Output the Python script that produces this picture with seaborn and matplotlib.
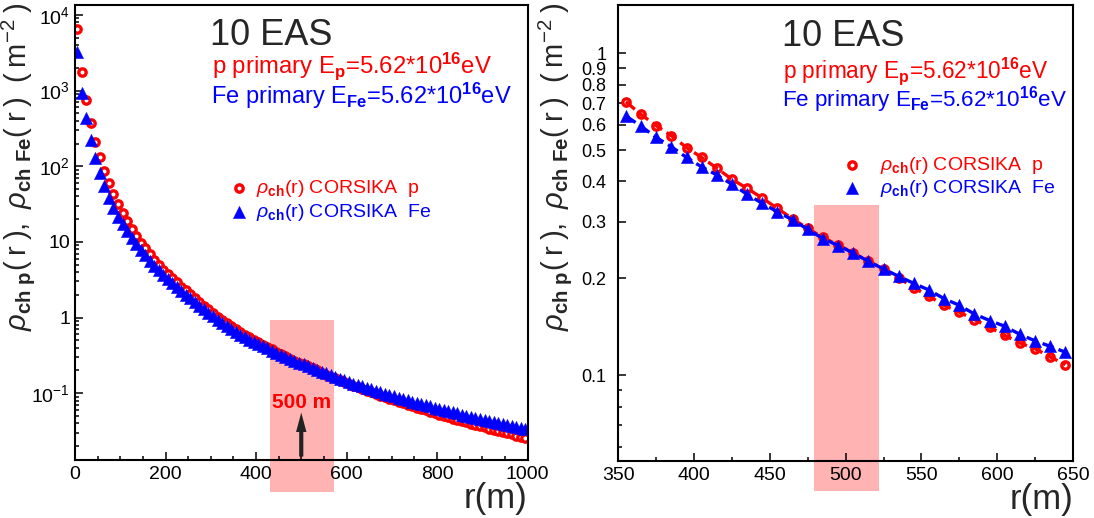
import numpy as np
import pandas as pd
import matplotlib
matplotlib.use("Agg")
import matplotlib.pyplot as plt
import seaborn as sns
from matplotlib.ticker import FixedLocator, MultipleLocator, LogLocator, NullFormatter

# ---------------- data ----------------
r_m = np.arange(5, 1000, 10)  # core distance grid (m)

rho_p = [6460, 1780, 759, 372, 211, 132, 86.7, 60.3, 42.9, 32.0,
         24.0, 18.9, 14.7, 11.9, 9.77, 8.22, 6.92, 5.82, 4.99, 4.29,
         3.74, 3.31, 2.93, 2.57, 2.28, 2.02, 1.79, 1.60, 1.43, 1.28,
         1.15, 1.03, 0.931, 0.843, 0.771, 0.707, 0.646, 0.596, 0.555, 0.510,
         0.475, 0.440, 0.406, 0.381, 0.355, 0.330, 0.306, 0.286, 0.268, 0.254,
         0.240, 0.226, 0.214, 0.201, 0.187, 0.176, 0.165, 0.157, 0.149, 0.141,
         0.133, 0.126, 0.121, 0.114, 0.108, 0.1030, 0.0979, 0.0933, 0.0889, 0.0847,
         0.0809, 0.0773, 0.0738, 0.0705, 0.0675, 0.0646, 0.0618, 0.0592, 0.0568, 0.0545,
         0.0522, 0.0501, 0.0481, 0.0462, 0.0445, 0.0428, 0.0411, 0.0395, 0.0381, 0.0367,
         0.0354, 0.0341, 0.0329, 0.0317, 0.0306, 0.0296, 0.0286, 0.0276, 0.0267, 0.0258]

rho_fe = [3270, 923, 432, 221, 128, 82.2, 54.7, 38.3, 28.3, 21.6,
          17.1, 13.8, 11.35, 9.42, 7.87, 6.64, 5.65, 4.85, 4.20, 3.66,
          3.22, 2.85, 2.54, 2.25, 2.01, 1.79, 1.60, 1.43, 1.29, 1.16,
          1.04, 0.942, 0.853, 0.773, 0.702, 0.639, 0.594, 0.548, 0.513, 0.475,
          0.444, 0.419, 0.392, 0.365, 0.342, 0.322, 0.304, 0.284, 0.266, 0.253,
          0.240, 0.226, 0.214, 0.203, 0.193, 0.184, 0.173, 0.165, 0.155, 0.148,
          0.142, 0.134, 0.128, 0.123, 0.118, 0.1125, 0.1076, 0.1030, 0.0989, 0.0948,
          0.0910, 0.0873, 0.0839, 0.0807, 0.0776, 0.0746, 0.0719, 0.0693, 0.0668, 0.0644,
          0.0621, 0.0600, 0.0579, 0.0560, 0.0541, 0.0522, 0.0506, 0.0490, 0.0474, 0.0459,
          0.0445, 0.0431, 0.0418, 0.0406, 0.0394, 0.0382, 0.0371, 0.0360, 0.0349, 0.0339]

label_p = r'$\rho_{\mathbf{ch}}$(r) CORSIKA  p'
label_fe = r'$\rho_{\mathbf{ch}}$(r) CORSIKA  Fe'
title_txt = '10 EAS'
p_txt = r'p primary E$_{\mathbf{p}}$=5.62*10$^{\mathbf{16}}$eV'
fe_txt = r'Fe primary E$_{\mathbf{Fe}}$=5.62*10$^{\mathbf{16}}$eV'
T = '\u2009'
ylabel_txt = (r'$\rho_{\mathbf{ch\ p}}$' + f'({T}r{T}),{T} ' + r'$\rho_{\mathbf{ch\ Fe}}$'
              + f'({T}r{T}) {T}({T}m' + r'$^{-2}$' + f'{T})')
xlabel_txt = 'r(m)'

left_yticks = [0.1, 1, 10, 100, 1000, 10000]
left_ytick_labels = [r'$10^{-1}$', '1', '10', r'$10^{2}$', r'$10^{3}$', r'$10^{4}$']
right_yticks = [0.1, 0.2, 0.3, 0.4, 0.5, 0.6, 0.7, 0.8, 0.9, 1.0]
right_ytick_labels = ['0.1', '0.2', '0.3', '0.4', '0.5', '0.6', '0.7', '0.8', '0.9', '1']
right_yminor = [0.06, 0.07, 0.08, 0.09]

df = pd.DataFrame({'r': r_m, 'p': rho_p, 'fe': rho_fe})
df_right = df[(df.r > 350) & (df.r < 650)]

# ---------------- style ----------------
sns.set_theme(style='ticks')
plt.rcParams['font.family'] = ['Liberation Sans', 'DejaVu Sans']
plt.rcParams.update({
    'mathtext.fontset': 'custom',
    'mathtext.rm': 'Liberation Sans',
    'mathtext.it': 'Liberation Sans:italic',
    'mathtext.bf': 'Liberation Sans:bold',
    'axes.linewidth': 1.5,
    'axes.edgecolor': 'black',
    'xtick.color': 'black', 'ytick.color': 'black',
})

RED = '#ff0000'
BLUE = '#0000ff'
PINK = '#ffb3b3'

fig = plt.figure(figsize=(10.94, 5.18), dpi=100)
axL = fig.add_axes([0.06856, 0.11197, 0.41362, 0.87838])
axR = fig.add_axes([0.56517, 0.11004, 0.41563, 0.88031])

circ_kw = dict(marker='o', s=28, facecolor='white', edgecolor=RED, linewidth=2.4)
tri_kw = dict(marker='^', s=78, facecolor=BLUE, edgecolor=BLUE, linewidth=0.3)

# ---------------- left panel ----------------
axL.axvspan(430, 572, ymin=-0.071, ymax=0.308, color=PINK, lw=0, clip_on=False, zorder=0)
sns.scatterplot(data=df, x='r', y='p', ax=axL, label=label_p, zorder=3, **circ_kw)
sns.scatterplot(data=df, x='r', y='fe', ax=axL, label=label_fe, zorder=4, **tri_kw)
axL.set_yscale('log')
axL.set_xlim(0, 1000)
axL.set_ylim(0.0131, 13550)
axL.xaxis.set_major_locator(MultipleLocator(200))
axL.xaxis.set_minor_locator(MultipleLocator(50))
axL.yaxis.set_major_locator(FixedLocator(left_yticks))
axL.set_yticklabels(left_ytick_labels)
axL.yaxis.set_minor_locator(LogLocator(base=10, subs=np.arange(2, 10)))
axL.yaxis.set_minor_formatter(NullFormatter())

axL.annotate('', xy=(500, 0.0555), xytext=(500, 0.01454), xycoords='data',
             arrowprops=dict(facecolor='#222222', edgecolor='none', width=3.0,
                             headwidth=7.5, headlength=14, shrink=0), zorder=5)
axL.text(500, 0.0757, '500 m', ha='center', va='center', color=RED,
         fontsize=15, fontweight='bold', zorder=6)

axL.text(0.298, 0.912, title_txt, transform=axL.transAxes, fontsize=26, va='baseline')
axL.text(0.302, 0.850, p_txt, transform=axL.transAxes, fontsize=17.2, color=RED, va='baseline')
axL.text(0.3006, 0.783, fe_txt, transform=axL.transAxes, fontsize=17.0, color=BLUE, va='baseline')

axL.legend(loc='center left', bbox_to_anchor=(0.341, 0.5697), frameon=False,
           fontsize=14, handlelength=1.0, handletextpad=0.38, labelspacing=0.15,
           borderpad=0, borderaxespad=0, labelcolor=[RED, BLUE])

# ---------------- right panel ----------------
axR.axvspan(479, 522, ymin=-0.065, ymax=0.561, color=PINK, lw=0, clip_on=False, zorder=0)
sns.scatterplot(data=df_right, x='r', y='p', ax=axR, label=label_p, zorder=3, **circ_kw)
sns.lineplot(data=df_right, x='r', y='p', ax=axR, color=RED, lw=2.4,
             linestyle=(0, (3.5, 1.6)), zorder=4, legend=False)
sns.scatterplot(data=df_right, x='r', y='fe', ax=axR, label=label_fe, zorder=5, **tri_kw)
sns.lineplot(data=df_right, x='r', y='fe', ax=axR, color=BLUE, lw=2.4,
             linestyle=(0, (3.5, 1.6)), zorder=6, legend=False)
axR.set_yscale('log')
axR.set_xlim(350, 650)
axR.set_ylim(0.0542, 1.413)
axR.xaxis.set_major_locator(MultipleLocator(50))
axR.xaxis.set_minor_locator(MultipleLocator(25))
axR.yaxis.set_major_locator(FixedLocator(right_yticks))
axR.set_yticklabels(right_ytick_labels)
axR.yaxis.set_minor_locator(FixedLocator(right_yminor))
axR.yaxis.set_minor_formatter(NullFormatter())

axR.text(0.361, 0.910, title_txt, transform=axR.transAxes, fontsize=26, va='baseline')
axR.text(0.363, 0.839, p_txt, transform=axR.transAxes, fontsize=16.3, color=RED, va='baseline')
axR.text(0.360, 0.7765, fe_txt, transform=axR.transAxes, fontsize=16.1, color=BLUE, va='baseline')

hR, lR = axR.get_legend_handles_labels()
axR.legend(hR[:2], lR[:2], loc='center left', bbox_to_anchor=(0.492, 0.6224), frameon=False,
           fontsize=14, handlelength=1.0, handletextpad=0.96, labelspacing=0.12,
           borderpad=0, borderaxespad=0, labelcolor=[RED, BLUE])

# ---------------- common axis styling ----------------
for ax, ypad, ysize in ((axL, 3.5, 14), (axR, 8.5, 13)):
    ax.tick_params(axis='both', which='both', direction='in', top=False, right=False,
                   width=1.1, colors='black')
    ax.tick_params(axis='both', which='major', length=6)
    ax.tick_params(axis='x', which='major', pad=4, labelsize=14)
    ax.tick_params(axis='y', which='major', pad=ypad, labelsize=ysize)
    ax.tick_params(axis='both', which='minor', length=3.2)
    ax.set_xlabel(xlabel_txt, fontsize=25, loc='right')
    ax.xaxis.set_label_coords(1.0, -0.048)
    ax.set_ylabel(ylabel_txt, fontsize=21, loc='top')
    for s in ax.spines.values():
        s.set_visible(True)
        s.set_linewidth(1.5)
        s.set_zorder(7)

axL.yaxis.set_label_coords(-0.084, 1.005)
axR.yaxis.set_label_coords(-0.097, 1.005)

fig.savefig('out.png', dpi=100, facecolor='white')
